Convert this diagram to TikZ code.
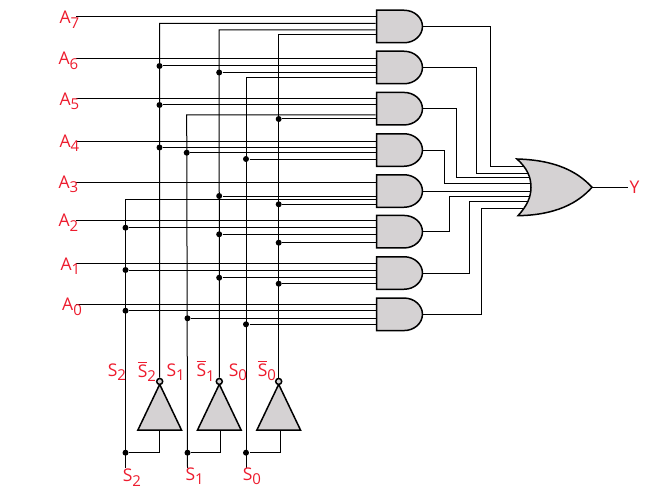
\documentclass[tikz,border=0pt]{standalone}
\usepackage{fontspec}
\usepackage{amsmath}
\setmainfont{Open Sans}
\usepackage{tikz}
\usetikzlibrary{calc,shapes.gates.logic.US}
\definecolor{labelred}{HTML}{ED1C2E}
\definecolor{gatefill}{HTML}{D5D2D3}
\newcommand{\sublab}[2]{#1\raisebox{-4.5pt}{\fontsize{15}{15}\selectfont #2}}
\newcommand{\barlab}[2]{\sublab{$\overline{\text{#1}}$}{#2}}

\begin{document}
\begin{tikzpicture}[x=1pt, y=-1pt, line width=1pt,
    andgate/.style={and gate US, draw, fill=gatefill, line width=1.5pt, inner sep=0, minimum height=32.5pt, xscale=1.13, anchor=west},
    orshape/.style={draw, fill=gatefill, line width=1.5pt, line join=miter},
    invgate/.style={not gate US, draw, fill=gatefill, line width=1.5pt, inner sep=0, minimum width=37.5pt, minimum height=37.5pt, logic gate inverted radius=3pt, rotate=90, anchor=output},
    dot/.style={circle, fill=black, inner sep=0, minimum size=6pt},
    redlabel/.style={labelred, anchor=base west, inner sep=0, font=\fontsize{17.5}{17.5}\selectfont}]
      \useasboundingbox (0,0) rectangle (650,500);
      % AND gates
      \node[andgate] (g7) at (375.7, 26.5) {};
      \node[andgate] (g6) at (375.7, 67.5) {};
      \node[andgate] (g5) at (375.7, 108.7) {};
      \node[andgate] (g4) at (375.7, 150) {};
      \node[andgate] (g3) at (375.7, 191) {};
      \node[andgate] (g2) at (375.7, 231.7) {};
      \node[andgate] (g1) at (375.7, 273) {};
      \node[andgate] (g0) at (375.7, 314.3) {};
      % Inverters
      \node[invgate] (n2) at (159.7, 377.7) {};
      \node[invgate] (n1) at (219.3, 377.7) {};
      \node[invgate] (n0) at (278.7, 377.7) {};
      % Data inputs
      \coordinate (a7) at (76, 17);
      \coordinate (a6) at (76, 58.5);
      \coordinate (a5) at (76, 99);
      \coordinate (a4) at (76, 141);
      \coordinate (a3) at (76, 182.7);
      \coordinate (a2) at (76, 220.7);
      \coordinate (a1) at (76, 263.3);
      \coordinate (a0) at (76, 304);
      \draw (a7) -- (a7 -| g7.west);
      \draw (a6) -- (a6 -| g6.west);
      \draw (a5) -- (a5 -| g5.west);
      \draw (a4) -- (a4 -| g4.west);
      \draw (a3) -- (a3 -| g3.west);
      \draw (a2) -- (a2 -| g2.west);
      \draw (a1) -- (a1 -| g1.west);
      \draw (a0) -- (a0 -| g0.west);
      % Select S2 and its inverse
      \coordinate (s2top) at (125.5, 199.7);
      \coordinate (s2end) at (125.5, 468);
      \node[dot] (s2a) at (125.5, 227.7) {};
      \node[dot] (s2b) at (125.5, 270) {};
      \node[dot] (s2c) at (125.5, 310.7) {};
      \node[dot] (s2d) at (125.5, 452.7) {};
      \draw (s2top -| g3.west) -- (s2top) -- (s2end);
      \draw (s2a) -- (s2a -| g2.west);
      \draw (s2b) -- (s2b -| g1.west);
      \draw (s2c) -- (s2c -| g0.west);
      \draw (n2.input) |- (s2d);
      \coordinate (b2top) at (159.5, 23.5);
      \node[dot] (b2a) at (159.5, 66) {};
      \node[dot] (b2b) at (159.5, 105) {};
      \node[dot] (b2c) at (159.5, 147.5) {};
      \draw (b2top -| g7.west) -- (b2top) -- (n2.output);
      \draw (b2a) -- (b2a -| g6.west);
      \draw (b2b) -- (b2b -| g5.west);
      \draw (b2c) -- (b2c -| g4.west);
      % Select S1 and its inverse
      \coordinate (s1top) at (186.7, 115);
      \coordinate (s1end) at (187.5, 468);
      \node[dot] (s1a) at (186.7, 152.7) {};
      \node[dot] (s1b) at (187.5, 318.3) {};
      \node[dot] (s1c) at (187.5, 452.7) {};
      \draw (s1top -| g5.west) -- (s1top) -- (s1end);
      \draw (s1a) -- (s1a -| g4.west);
      \draw (s1b) -- (s1b -| g0.west);
      \draw ([xshift=1pt]n1.input) |- (s1c);
      \coordinate (b1top) at (219.2, 30);
      \node[dot] (b1a) at (219.2, 72.5) {};
      \node[dot] (b1b) at (219.2, 196) {};
      \node[dot] (b1c) at (219.2, 234.3) {};
      \node[dot] (b1d) at (219.2, 277.7) {};
      \draw (b1top -| g7.west) -- (b1top) -- (n1.output);
      \draw (b1a) -- (b1a -| g6.west);
      \draw (b1b) -- (b1b -| g3.west);
      \draw (b1c) -- (b1c -| g2.west);
      \draw (b1d) -- (b1d -| g1.west);
      % Select S0 and its inverse
      \coordinate (s0top) at (246, 77.7);
      \coordinate (s0end) at (246, 468);
      \node[dot] (s0a) at (246, 159) {};
      \node[dot] (s0b) at (246, 324.3) {};
      \node[dot] (s0c) at (246, 452.7) {};
      \draw (s0top -| g6.west) -- (s0top) -- (s0end);
      \draw (s0a) -- (s0a -| g4.west);
      \draw (s0b) -- (s0b -| g0.west);
      \draw ([xshift=2pt]n0.input) |- (s0c);
      \coordinate (b0top) at (278.7, 35);
      \node[dot] (b0a) at (278.7, 119) {};
      \node[dot] (b0b) at (278.7, 204.3) {};
      \node[dot] (b0c) at (278.7, 242.7) {};
      \node[dot] (b0d) at (278.7, 283.7) {};
      \draw (b0top -| g7.west) -- (b0top) -- (n0.output);
      \draw (b0a) -- (b0a -| g5.west);
      \draw (b0b) -- (b0b -| g3.west);
      \draw (b0c) -- (b0c -| g2.west);
      \draw (b0d) -- (b0d -| g1.west);
      % Gate outputs into the OR gate
      \coordinate (orback) at (535, 187.3);
      \coordinate (orout) at (592, 187.3);
      \coordinate (k7) at (490, 166.7);
      \coordinate (k6) at (476, 173);
      \coordinate (k5) at (456, 177.7);
      \coordinate (k4) at (444, 183);
      \coordinate (k2) at (449.3, 196);
      \coordinate (k1) at (469.3, 201.7);
      \coordinate (k0) at (481.7, 208.3);
      \draw (g7.output) -| (k7) -- (k7 -| orback);
      \draw (g6.output) -| (k6) -- (k6 -| orback);
      \draw (g5.output) -| (k5) -- (k5 -| orback);
      \draw (g4.output) -| (k4) -- (k4 -| orback);
      \draw (g3.output) -- (g3.output -| orback);
      \draw (g2.output) -| (k2) -- (k2 -| orback);
      \draw (g1.output) -| (k1) -- (k1 -| orback);
      \draw (g0.output) -| (k0) -- (k0 -| orback);
      % OR gate
      \draw[orshape] (517, 159) .. controls (556, 160) and (578, 172) .. (orout)
        .. controls (578, 203) and (556, 215) .. (518, 215.7)
        .. controls (527, 206) and (531, 197) .. (531, 187.3)
        .. controls (531, 177) and (527, 168) .. (517, 159) -- cycle;
      \coordinate (yend) at (628, 187.3);
      \draw (orout) -- (yend);
      % Labels
      \node[redlabel] (la7) at (59, 24) {\sublab{A}{7}};
      \node[redlabel] (la6) at (58, 65) {\sublab{A}{6}};
      \node[redlabel] (la5) at (59, 105.3) {\sublab{A}{5}};
      \node[redlabel] (la4) at (59, 147) {\sublab{A}{4}};
      \node[redlabel] (la3) at (58, 188.3) {\sublab{A}{3}};
      \node[redlabel] (la2) at (58, 226.7) {\sublab{A}{2}};
      \node[redlabel] (la1) at (60, 270) {\sublab{A}{1}};
      \node[redlabel] (la0) at (61.7, 310.7) {\sublab{A}{0}};
      \node[redlabel] (ls2) at (107.3, 376) {\sublab{S}{2}};
      \node[redlabel] (lb2) at (137.3, 377) {\barlab{S}{2}};
      \node[redlabel] (ls1) at (166, 376) {\sublab{S}{1}};
      \node[redlabel] (lb1) at (196, 376.7) {\barlab{S}{1}};
      \node[redlabel] (ls0) at (228.3, 376) {\sublab{S}{0}};
      \node[redlabel] (lb0) at (257.3, 376) {\barlab{S}{0}};
      \node[redlabel] (lo2) at (122.3, 481.7) {\sublab{S}{2}};
      \node[redlabel] (lo1) at (185, 480) {\sublab{S}{1}};
      \node[redlabel] (lo0) at (242.3, 480) {\sublab{S}{0}};
      \node[redlabel] (ly) at (629, 193.3) {Y};
\end{tikzpicture}
\end{document}
